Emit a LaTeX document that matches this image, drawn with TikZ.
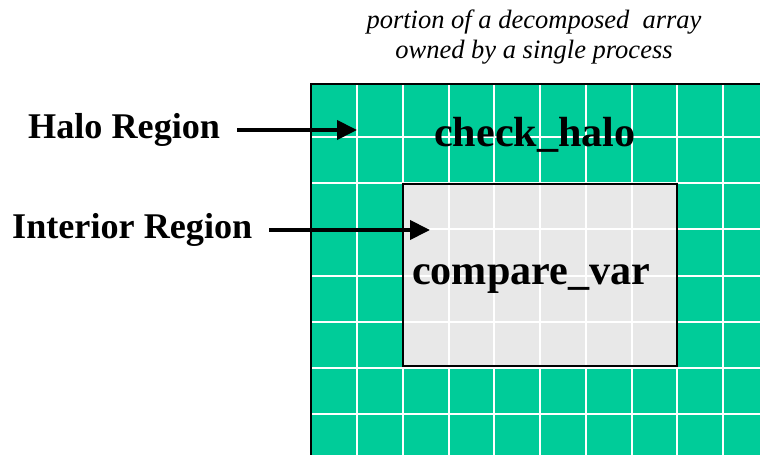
\documentclass[tikz,border=0pt]{standalone}
\usepackage{fontspec}
\setmainfont{Liberation Serif}
\usetikzlibrary{arrows.meta}

\definecolor{halogreen}{HTML}{00CC99}
\definecolor{interiorgrey}{HTML}{E8E8E8}

\begin{document}
\begin{tikzpicture}[x=1bp,y=-1bp,
  lbl/.style={font=\fontsize{36.3}{40}\bfseries\selectfont,inner sep=0pt,anchor=base west},
  big/.style={font=\fontsize{42.3}{46}\bfseries\selectfont,inner sep=0pt,anchor=base west},
  captext/.style={font=\fontsize{26.6}{31}\itshape\selectfont,align=center,inner sep=0pt},
  arr/.style={-{Triangle[length=20bp,width=19bp]},line width=4bp}]
\useasboundingbox (0,0) rectangle (760,455);
% the process-local array: halo cells around the interior block
\fill[halogreen] (311,84) rectangle (760,455);
\fill[interiorgrey] (403,184) rectangle (677,366);
\foreach \i in {0,...,8}
  \draw[white,line width=2bp] (357+45.75*\i,84) -- (357+45.75*\i,455);
\foreach \j in {0,...,6}
  \draw[white,line width=2bp] (311,137+46.2*\j) -- (760,137+46.2*\j);
\draw[line width=2.5bp] (311,455) -- (311,84) -- (760,84);
\draw[line width=2.5bp] (403,184) rectangle (677,366);

\node[captext] (title) at (534,37) {portion of a decomposed~ array\\owned by a single process};
\node[big] (chk) at (434,147) {check\_halo};
\node[big] (cmp) at (412,285) {compare\_var};

\node[lbl] (halo) at (28,139) {Halo Region};
\node[lbl] (inter) at (12,239) {Interior Region};
\coordinate (halotip) at (357,130);
\coordinate (intertip) at (430,230);
\draw[arr,shorten <=17bp] (halotip -| halo.east) -- (halotip);
\draw[arr,shorten <=17bp] (intertip -| inter.east) -- (intertip);
\end{tikzpicture}
\end{document}
